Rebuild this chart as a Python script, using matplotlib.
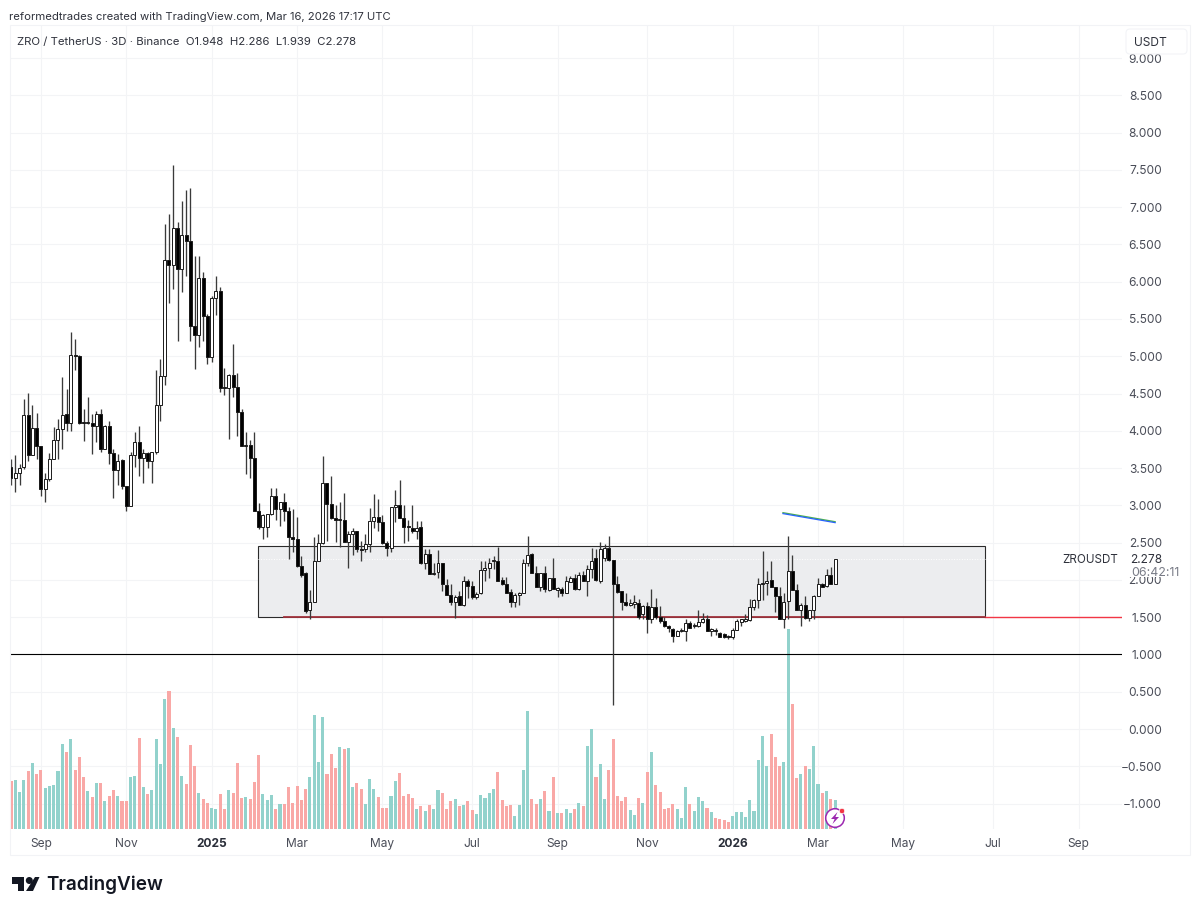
import matplotlib
matplotlib.use("Agg")
import matplotlib.pyplot as plt
from matplotlib.patches import Rectangle, Polygon, Circle, FancyBboxPatch
from matplotlib.transforms import Affine2D

plt.rcParams['font.family'] = ['Inter', 'DejaVu Sans']

opens = [3.51,3.37,3.44,3.51,4.21,3.68,4.04,3.79,3.22,3.35,
3.62,3.87,4.02,4.22,4.11,5.02,5.00,4.11,4.10,4.11,
4.07,4.23,3.76,4.07,3.70,3.47,3.61,3.26,2.99,3.67,
3.85,3.64,3.70,3.59,3.71,4.34,4.74,6.29,6.23,6.72,
6.17,6.63,6.54,5.40,5.28,6.05,5.54,4.99,5.78,5.88,
4.59,4.58,4.75,4.59,4.25,3.80,3.81,3.64,2.93,2.71,
2.71,2.88,3.12,2.95,3.05,2.93,2.58,2.55,2.19,2.09,
1.59,1.71,2.26,2.50,3.30,3.02,2.83,2.80,2.81,2.51,
2.62,2.65,2.42,2.41,2.48,2.79,2.84,2.77,2.49,2.43,
2.98,3.01,2.83,2.72,2.70,2.66,2.71,2.23,2.35,2.08,
2.10,2.22,1.93,1.80,1.71,1.79,1.66,1.99,1.92,1.77,
1.82,2.13,2.16,2.25,2.26,2.00,1.95,1.84,1.70,1.80,
1.83,2.22,2.35,2.09,1.90,2.09,1.87,2.02,1.86,1.88,
1.83,1.97,2.03,1.88,2.07,1.99,2.15,2.29,1.99,2.29,
2.43,2.27,1.95,1.85,1.70,1.66,1.68,1.69,1.54,1.65,
1.47,1.64,1.50,1.45,1.38,1.34,1.25,1.32,1.32,1.42,
1.38,1.38,1.44,1.47,1.32,1.33,1.29,1.27,1.25,1.23,
1.33,1.44,1.45,1.46,1.63,1.73,1.94,1.96,2.00,1.90,
1.79,1.47,1.72,2.12,1.87,1.59,1.67,1.49,1.59,1.79,
1.95,1.92,2.06,1.948]

closes = [3.37,3.44,3.50,4.21,3.68,4.04,3.79,3.22,3.35,3.62,
3.87,4.02,4.21,4.11,5.02,5.00,4.11,4.10,4.11,4.07,
4.23,3.76,4.07,3.70,3.47,3.60,3.26,2.99,3.67,3.85,
3.64,3.70,3.60,3.71,4.35,4.74,6.29,6.22,6.72,6.17,
6.63,6.54,5.40,5.28,6.05,5.54,4.99,5.78,5.88,4.58,
4.58,4.75,4.59,4.25,3.80,3.81,3.64,2.93,2.71,2.87,
2.88,3.12,2.95,3.05,2.93,2.58,2.55,2.19,2.07,1.58,
1.71,2.26,2.50,3.30,3.02,2.83,2.80,2.81,2.51,2.61,
2.65,2.42,2.40,2.48,2.79,2.84,2.77,2.49,2.43,2.98,
3.01,2.83,2.71,2.71,2.65,2.70,2.23,2.35,2.08,2.09,
2.22,1.94,1.80,1.71,1.77,1.66,1.99,1.92,1.77,1.81,
2.13,2.16,2.23,2.26,1.99,1.95,1.83,1.70,1.80,1.83,
2.22,2.34,2.09,1.91,2.09,1.88,2.02,1.88,1.89,1.83,
1.98,2.03,1.88,2.07,1.99,2.15,2.26,2.00,2.42,2.43,
2.27,1.95,1.84,1.70,1.66,1.69,1.70,1.50,1.65,1.47,
1.64,1.50,1.45,1.38,1.35,1.25,1.31,1.33,1.42,1.36,
1.39,1.44,1.47,1.32,1.34,1.31,1.24,1.24,1.23,1.33,
1.45,1.47,1.47,1.63,1.73,1.94,1.96,1.99,1.90,1.79,
1.47,1.71,2.12,1.87,1.59,1.67,1.49,1.59,1.79,1.95,
1.91,2.06,1.95,2.278]

highs = [3.62,3.67,3.55,4.43,4.51,4.35,4.24,3.79,3.44,3.70,
4.05,4.16,4.72,4.56,5.33,5.23,5.02,4.29,4.45,4.23,
4.26,4.29,4.08,4.13,3.76,3.69,3.62,3.26,3.71,3.99,
4.07,3.76,3.71,3.72,4.82,4.96,6.77,6.91,7.57,6.80,
7.08,7.23,7.26,6.35,6.35,6.13,5.57,5.81,6.08,5.93,
4.84,4.76,5.17,4.78,4.29,3.98,3.87,3.99,3.03,2.88,
2.89,3.23,3.23,3.05,3.17,2.98,2.95,2.84,2.32,2.10,
1.87,2.57,2.61,3.66,3.30,3.40,3.01,3.04,3.16,2.66,
2.70,2.66,2.52,2.61,2.96,3.15,3.09,2.87,2.52,2.98,
3.20,3.34,3.01,2.81,3.01,2.79,2.79,2.41,2.41,2.23,
2.40,2.23,2.01,1.94,1.80,1.85,2.05,2.01,1.99,1.84,
2.25,2.26,2.30,2.32,2.44,2.04,2.04,1.88,1.82,1.84,
2.28,2.59,2.36,2.19,2.09,2.18,2.03,2.29,1.91,1.90,
2.05,2.05,2.08,2.11,2.12,2.20,2.43,2.42,2.51,2.48,
2.59,2.27,2.05,1.85,1.82,1.75,1.80,1.74,1.66,1.70,
1.88,1.76,1.65,1.50,1.39,1.35,1.33,1.35,1.48,1.45,
1.42,1.60,1.56,1.53,1.36,1.35,1.30,1.29,1.26,1.35,
1.48,1.48,1.54,1.75,1.75,2.03,2.39,2.12,2.25,1.91,
1.91,1.82,2.59,2.34,1.95,1.69,1.79,1.59,1.80,2.02,
1.96,2.14,2.17,2.286]

lows = [3.27,3.18,3.27,3.49,3.60,3.67,3.62,3.13,3.04,3.32,
3.62,3.62,3.76,4.00,4.00,4.81,4.09,3.86,4.09,3.69,
3.85,3.71,3.75,3.56,3.10,3.27,3.22,2.93,2.99,3.51,
3.40,3.30,3.50,3.30,3.69,4.13,4.61,5.72,5.90,5.20,
5.86,6.08,5.20,4.83,5.13,5.21,4.89,4.92,5.56,4.52,
4.48,3.89,4.45,3.93,3.79,3.42,3.37,2.93,2.68,2.55,
2.57,2.87,2.81,2.72,2.79,2.28,2.38,2.17,2.04,1.56,
1.48,1.71,2.25,2.48,2.52,2.82,2.51,2.44,2.51,2.16,
2.34,2.37,2.26,2.37,2.37,2.69,2.66,2.48,2.32,2.37,
2.77,2.83,2.50,2.52,2.63,2.55,2.21,2.14,2.08,2.07,
2.02,1.85,1.80,1.67,1.49,1.66,1.65,1.76,1.75,1.74,
1.81,1.98,2.03,2.14,1.98,1.93,1.82,1.64,1.63,1.67,
1.82,2.19,2.09,1.90,1.85,1.84,1.85,1.88,1.77,1.79,
1.82,1.97,1.86,1.86,1.98,1.79,2.03,1.99,1.96,2.26,
2.25,0.32,1.83,1.59,1.65,1.65,1.62,1.48,1.48,1.29,
1.42,1.47,1.42,1.37,1.30,1.17,1.25,1.30,1.18,1.35,
1.35,1.37,1.42,1.32,1.25,1.26,1.23,1.22,1.21,1.21,
1.33,1.38,1.44,1.45,1.59,1.62,1.73,1.80,1.90,1.57,
1.47,1.36,1.48,1.87,1.59,1.38,1.48,1.45,1.48,1.78,
1.90,1.90,1.94,1.939]

volumes = [145,147,112,148,174,197,164,177,124,129,
132,174,254,232,271,177,217,155,114,97,
138,137,84,99,116,99,84,84,157,159,
274,125,104,117,269,195,389,414,302,277,
158,134,251,189,107,90,77,62,60,104,
60,118,108,198,93,96,90,140,221,104,
87,103,61,74,74,125,77,130,86,119,
156,342,202,337,164,225,184,245,240,243,
127,138,120,76,149,120,95,62,63,99,
145,168,99,106,92,60,69,55,73,61,
118,107,59,84,90,69,72,84,56,44,
102,94,108,119,171,86,70,72,40,72,
177,354,90,74,89,114,55,157,49,49,
61,49,61,77,69,248,300,157,195,90,
177,269,99,84,97,57,41,93,78,171,
230,132,110,59,63,76,60,33,126,74,
54,97,83,64,50,34,31,27,21,40,
52,51,35,86,53,208,279,189,285,216,
189,201,601,376,154,164,189,180,249,136,
107,115,90,88]

month_candles = [7, 27, 47, 67, 87, 108, 128, 149, 169, 189, 209, 230, 250]
month_labels = ['Sep', 'Nov', '2025', 'Mar', 'May', 'Jul', 'Sep', 'Nov', '2026', 'Mar', 'May', 'Jul', 'Sep']
price_ticks = [9.0, 8.5, 8.0, 7.5, 7.0, 6.5, 6.0, 5.5, 5.0, 4.5, 4.0, 3.5, 3.0, 2.5, 2.0, 1.5, 1.0, 0.5, 0.0, -0.5, -1.0]

range_box_prices = [1.5, 2.454]
range_box_candles = [57.9, 228.1]
support_level = 1.5
support_start = 64.0
support_box_end = 228.1
round_level = 1.0
last_price = 2.278
trend_candles = [180.8, 193.0]
trend_prices = [2.889, 2.768]

W, H = 1200, 913
fig = plt.figure(figsize=(W / 100, H / 100), dpi=100, facecolor='white')
L, R, T, B = 10, 1122, 25, 829
ax = fig.add_axes([L / W, 1 - B / H, (R - L) / W, (B - T) / H])
ax.set_facecolor('white')
px = Affine2D().scale(1 / W, -1 / H).translate(0, 1) + fig.transFigure

XLIM = ((L - 11) / 4.27, (R - 11) / 4.27)
YLIM = ((729.0 - B) / 74.55, (729.0 - T) / 74.55)
ax.set_xlim(*XLIM)
ax.set_ylim(*YLIM)
for s in ax.spines.values():
    s.set_visible(False)

GRID = '#f3f4f6'
ax.set_axisbelow(True)
ax.set_yticks(price_ticks)
ax.set_yticklabels([f'{p:.3f}'.replace('-', '\u2212') for p in price_ticks])
ax.set_xticks(month_candles)
ax.set_xticklabels(month_labels)
ax.grid(True, color=GRID, lw=0.8, zorder=0)
ax.yaxis.tick_right()
ax.tick_params(axis='y', length=0, pad=28.8, labelsize=8.6, labelcolor='#4a4d58')
ax.tick_params(axis='x', length=0, pad=6.5, labelsize=8.6, labelcolor='#4a4d58')
for lb in ax.get_yticklabels():
    lb.set_ha('right')
for lb in ax.get_xticklabels():
    if lb.get_text() in ('2025', '2026'):
        lb.set_fontweight('bold')
        lb.set_color('#2a2e39')

# volume bars, scaled to the lower part of the pane
idx = list(range(len(opens)))
vol_scale = 3 * (B - T)
vol_colors = ['#92d2cc' if c >= o else '#f9a8a6' for o, c in zip(opens, closes)]
ax.bar(idx, [v / vol_scale for v in volumes], width=0.72, color=vol_colors,
       transform=ax.get_xaxis_transform(), zorder=1.5, linewidth=0)

# range box and levels
ax.add_patch(Rectangle((range_box_candles[0], range_box_prices[0]),
                       range_box_candles[1] - range_box_candles[0],
                       range_box_prices[1] - range_box_prices[0],
                       facecolor='#ecedef', edgecolor='#2b2b2b', lw=0.8, zorder=1))
ax.plot([range_box_candles[0], range_box_candles[1]], [last_price] * 2, color='white', lw=0.7, ls=':', zorder=1.2)
ax.plot([range_box_candles[1], XLIM[1]], [support_level] * 2, color='#f23645', lw=1.0, zorder=2)
ax.plot([support_start, support_box_end], [support_level] * 2, color='#a1323c', lw=1.3, zorder=2)
ax.plot(XLIM, [round_level] * 2, color='black', lw=0.8, zorder=2)

# candles
for i, (o, c, h, l) in enumerate(zip(opens, closes, highs, lows)):
    ax.plot([i, i], [l, h], color='#3a3a3a', lw=0.95, zorder=3, solid_capstyle='butt')
    up = c >= o
    ax.add_patch(Rectangle((i - 0.35, min(o, c)), 0.70, max(abs(c - o), 0.012),
                           facecolor='white' if up else 'black', edgecolor='#1a1a1a',
                           lw=0.7, zorder=3.5))

# drawn trend line
ax.plot(trend_candles[0:2], [p + 0.012 for p in trend_prices], color='#4caf50', lw=1.0, zorder=4)
ax.plot(trend_candles[0:2], trend_prices, color='#2962ff', lw=0.9, zorder=4.1)

ax.set_xlim(*XLIM)
ax.set_ylim(*YLIM)

# frame
fig.add_artist(Rectangle((10, 25), 1180, 830, transform=px, facecolor='none', edgecolor='#f2f3f6', lw=0.8, zorder=6))

def t(x, y, s, **kw):
    kw.setdefault('va', 'center')
    kw.setdefault('ha', 'left')
    kw.setdefault('color', '#2f323c')
    kw.setdefault('fontsize', 8.6)
    fig.text(x / W, 1 - (y + 1.5) / H, s, zorder=9, **kw)

t(9, 15, 'reformedtrades created with TradingView.com, Mar 16, 2026 17:17 UTC', fontsize=8.13)
t(17, 41, 'ZRO / TetherUS \u00b7 3D \u00b7 Binance  O1.948  H2.286  L1.939  C2.278', fontsize=8.2)

fig.add_artist(FancyBboxPatch((1126, 29), 61, 25, boxstyle='round,pad=0,rounding_size=4', transform=px,
                              facecolor='white', edgecolor='#f3f4f7', lw=0.8, zorder=7))
t(1134, 41, 'USDT', fontsize=8.6)

fig.add_artist(Rectangle((1124, 552), 56, 25.5, transform=px, facecolor='white', edgecolor='none', zorder=7))
t(1118, 558.5, 'ZROUSDT', ha='right', fontsize=8.4)
t(1162, 558.5, '2.278', ha='right', fontsize=8.6)
t(1131, 571.5, '06:42:11', color='#787b86', fontsize=8.9)

# logo
for poly in ([(11.7, 877), (24, 877), (24, 891), (17.5, 891), (17.5, 884), (11.7, 884)],
             [(35, 877), (39.5, 877), (33, 891), (26, 891)]):
    fig.add_artist(Polygon(poly, closed=True, transform=px, facecolor='#131722', edgecolor='none', zorder=8))
fig.add_artist(Circle((29.3, 880.5), 3.5, transform=px, facecolor='#131722', edgecolor='none', zorder=8))
t(46, 883.5, 'TradingView', color='#131722', fontsize=13.6, fontweight='semibold')

# bolt badge
fig.add_artist(Circle((835, 818), 9.3, transform=px, facecolor='white', edgecolor='#9c27b0', lw=1.1, zorder=8))
fig.add_artist(Polygon([(837.5, 812), (831, 819), (834.6, 819), (832.5, 824), (839, 817), (835.4, 817)], closed=True,
                       transform=px, facecolor='#9c27b0', edgecolor='none', zorder=8.1))
fig.add_artist(Circle((842, 811), 2.7, transform=px, facecolor='#f23645', edgecolor='white', lw=0.5, zorder=8.2))

fig.savefig('out.png', dpi=100)
